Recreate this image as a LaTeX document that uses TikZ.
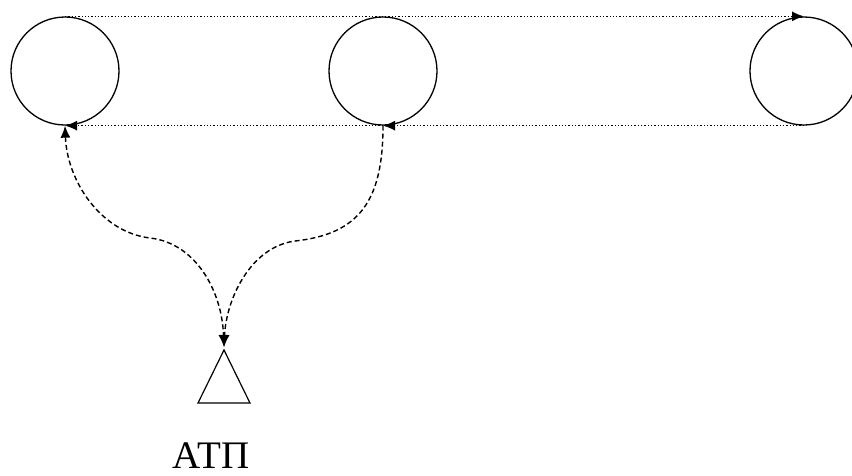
\documentclass[tikz,border=0pt]{standalone}
\usepackage{fontspec}
\setmainfont{Liberation Serif}
\usetikzlibrary{arrows.meta,positioning}
\tikzstyle{station}=[draw,circle,minimum size=108pt,inner sep=0pt,line width=1.3pt]

\begin{document}
\begin{tikzpicture}[x=1pt,y=-1pt,
>={Latex[length=12pt,width=10pt]},
route/.style={dotted, line width=1.3pt, ->},
link/.style={dash pattern=on 5pt off 3pt, line width=1.4pt, shorten >=3pt}]
\useasboundingbox (0,0) rectangle (852,475);
\node [station] (c1) at (65,71) {};
\node [station] (c2) at (383,71) {};
\node [station] (c3) at (804,71) {};
% ATP
\coordinate (atp) at (224,350);
\draw [line width=1.2pt] (atp) -- (198,403) -- (250,403) -- cycle;
\node [anchor=base,inner sep=0pt] (lbl) at (211,468) {\fontsize{39}{40}\selectfont АТП};
\draw [route] (c1.north) -- (c3.north);
\draw [route] (c3.south) -- (c2.south);
\draw [route] (c2.south) -- (c1.south);
\draw [link,<->] (c1.south) .. controls (67,180) and (100,232) .. (150,238) .. controls (195,243) and (222,290) .. (atp);
\draw [link,->] (c2.south) .. controls (383,200) and (360,234) .. (295,241) .. controls (250,247) and (226,300) .. (atp);
\end{tikzpicture}
\end{document}
